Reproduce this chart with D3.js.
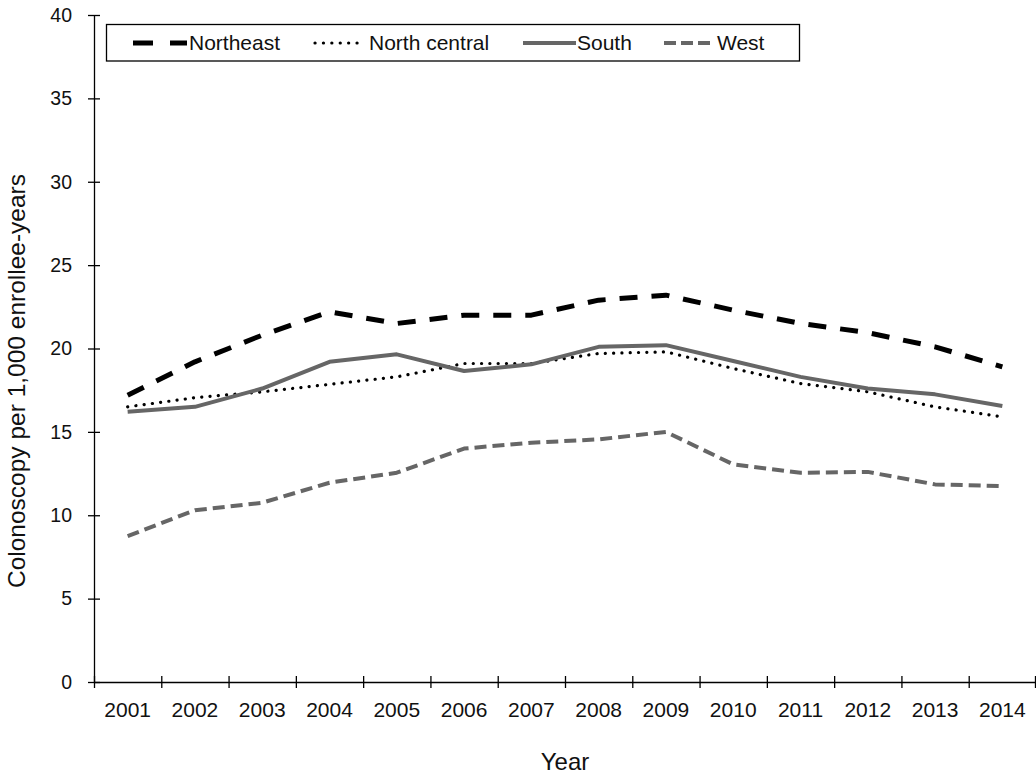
<!DOCTYPE html>
<html>
<head>
<meta charset="utf-8">
<script src="https://cdn.jsdelivr.net/npm/d3@7"></script>
<style>
  body { margin: 0; background: #fff; }
  svg { display: block; font-family: "Liberation Sans", Arial, sans-serif; }
</style>
</head>
<body>
<svg id="chart" width="1036" height="774"></svg>
<script>
const years = ['2001', '2002', '2003', '2004', '2005', '2006', '2007', '2008', '2009', '2010', '2011', '2012', '2013', '2014'];
const northeast = [17.2, 19.2, 20.8, 22.2, 21.5, 22.0, 22.0, 22.9, 23.2, 22.3, 21.5, 20.95, 20.1, 18.9];
const northCentral = [16.5, 17.05, 17.4, 17.85, 18.3, 19.1, 19.1, 19.7, 19.8, 18.8, 17.9, 17.4, 16.5, 15.9];
const south = [16.2, 16.5, 17.6, 19.2, 19.65, 18.65, 19.05, 20.1, 20.2, 19.25, 18.3, 17.6, 17.25, 16.55];
const west = [8.75, 10.3, 10.75, 11.95, 12.55, 14.0, 14.35, 14.55, 15.0, 13.05, 12.55, 12.6, 11.85, 11.75];
const yTicks = [0, 5, 10, 15, 20, 25, 30, 35, 40];

// series styles
const series = [
  { name: 'Northeast', values: northeast, color: '#000', width: 5, dash: '18 14', legendDash: '20 17', cap: 'butt' },
  { name: 'North central', values: northCentral, color: '#000', width: 3.2, dash: '0.1 8.2', legendDash: '0.1 8.3', cap: 'round' },
  { name: 'South', values: south, color: '#666', width: 4, dash: null, legendDash: null, cap: 'butt' },
  { name: 'West', values: west, color: '#666', width: 4, dash: '12 6', legendDash: '12 5', cap: 'butt' }
];

const svg = d3.select('#chart');
const margin = { top: 15, right: 0, bottom: 92, left: 94 };
const width = 1036 - margin.left - margin.right;
const height = 774 - margin.top - margin.bottom;

const g = svg.append('g').attr('transform', `translate(${margin.left},${margin.top})`);

const x = d3.scaleBand().domain(years).range([0, width]);
const y = d3.scaleLinear().domain([0, 40]).range([height, 0]);

// y axis with crossing ticks
const yAxis = g.append('g')
  .call(d3.axisLeft(y).tickValues(yTicks).tickSize(6).tickPadding(16));
yAxis.selectAll('.tick line').attr('x1', 6).attr('stroke-width', 1.3);
yAxis.selectAll('text').attr('font-size', 19.5).attr('fill', '#111');
yAxis.select('.domain').attr('d', `M0.5,${height}V0.5`).attr('stroke-width', 1.3);

// x axis: labels at band centres, ticks on band edges
const xAxis = g.append('g')
  .attr('transform', `translate(0,${height})`)
  .call(d3.axisBottom(x).tickSize(0).tickPadding(20));
xAxis.select('.domain').attr('d', `M0,0.5H${width}`).attr('stroke-width', 1.3);
xAxis.selectAll('text').attr('font-size', 21).attr('fill', '#111');

const edges = years.map(d => x(d)).concat([width - 1]);
xAxis.selectAll('.edge')
  .data(edges)
  .enter()
  .append('line')
  .attr('class', 'edge')
  .attr('x1', d => d + 0.5)
  .attr('x2', d => d + 0.5)
  .attr('y1', -6)
  .attr('y2', 6)
  .attr('stroke', '#000')
  .attr('stroke-width', 1.3);

// lines
const line = d3.line()
  .x((d, i) => x(years[i]) + x.bandwidth() / 2)
  .y(d => y(d));

g.append('g')
  .selectAll('path')
  .data(series)
  .enter()
  .append('path')
  .attr('d', d => line(d.values))
  .attr('fill', 'none')
  .attr('stroke', d => d.color)
  .attr('stroke-width', d => d.width)
  .attr('stroke-dasharray', d => d.dash)
  .attr('stroke-linecap', d => d.cap)
  .attr('stroke-linejoin', 'round');

// legend
const legend = svg.append('g');
legend.append('rect')
  .attr('x', 106.5)
  .attr('y', 24.5)
  .attr('width', 693)
  .attr('height', 36.5)
  .attr('fill', '#fff')
  .attr('stroke', '#000')
  .attr('stroke-width', 1.3);

const legendPos = [
  { x1: 133, x2: 187, tx: 189 },
  { x1: 315, x2: 362, tx: 369 },
  { x1: 523, x2: 576, tx: 577 },
  { x1: 664, x2: 712, tx: 717 }
];

const item = legend.selectAll('.item')
  .data(series)
  .enter()
  .append('g')
  .attr('class', 'item');

item.append('line')
  .attr('x1', (d, i) => legendPos[i].x1)
  .attr('x2', (d, i) => legendPos[i].x2)
  .attr('y1', 43)
  .attr('y2', 43)
  .attr('stroke', d => d.color)
  .attr('stroke-width', d => d.width)
  .attr('stroke-dasharray', d => d.legendDash)
  .attr('stroke-linecap', d => d.cap);

item.append('text')
  .attr('x', (d, i) => legendPos[i].tx)
  .attr('y', 50)
  .attr('font-size', 21)
  .attr('fill', '#111')
  .text(d => d.name);

// axis titles
svg.append('text')
  .attr('transform', 'translate(25,381) rotate(-90)')
  .attr('text-anchor', 'middle')
  .attr('font-size', 24.5)
  .attr('fill', '#111')
  .text('Colonoscopy per 1,000 enrollee-years');

svg.append('text')
  .attr('x', margin.left + width / 2)
  .attr('y', 770)
  .attr('text-anchor', 'middle')
  .attr('font-size', 24)
  .attr('fill', '#111')
  .text('Year');
</script>
</body>
</html>
